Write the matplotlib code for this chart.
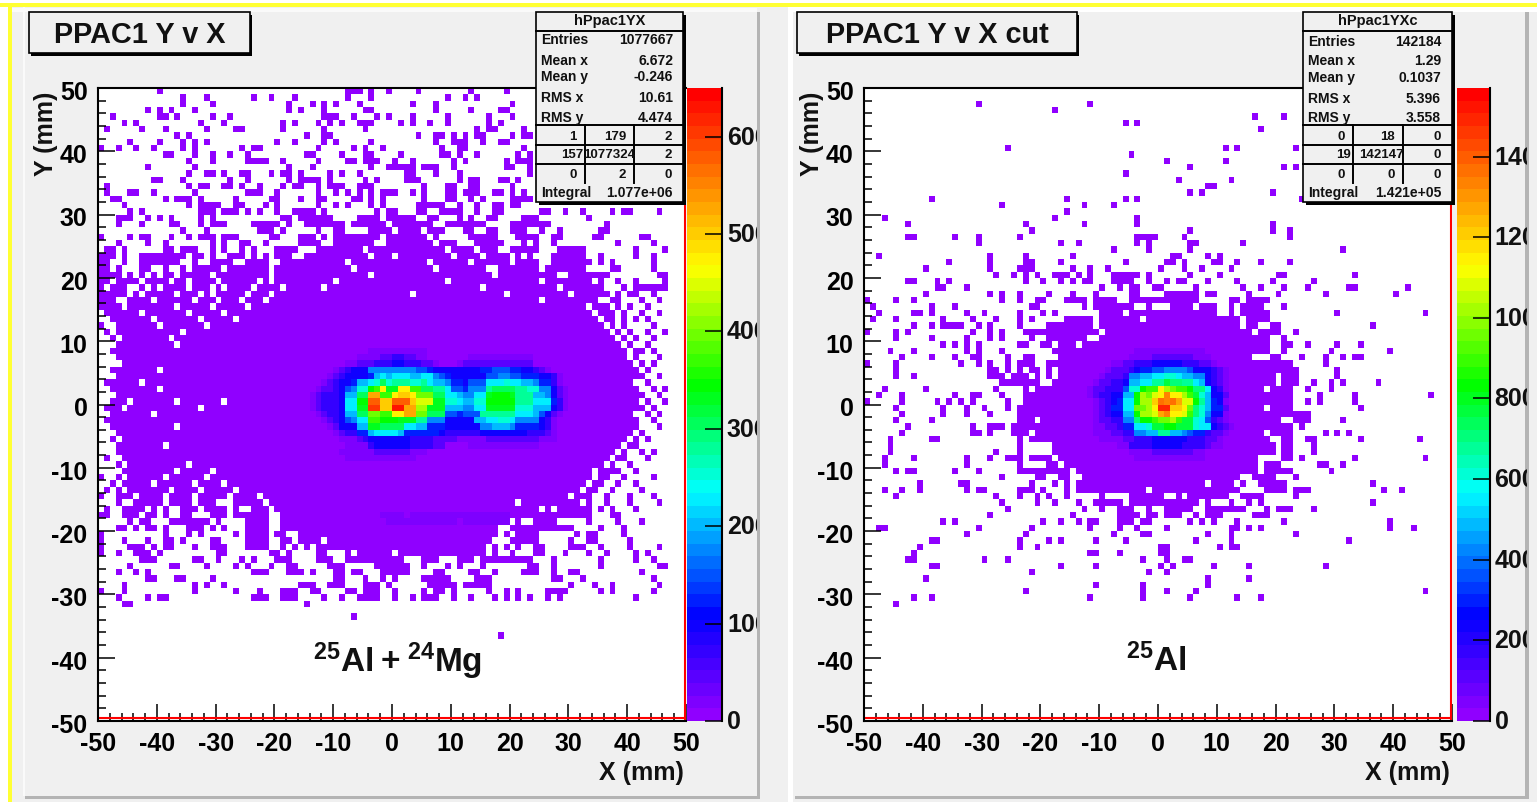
# PPAC1 Y v X, all events and with the cut
import numpy as np
import matplotlib
matplotlib.use('Agg')
import matplotlib.pyplot as plt
from matplotlib.colors import LinearSegmentedColormap
from matplotlib.patches import Rectangle
from matplotlib.lines import Line2D
from matplotlib.transforms import Bbox, ScaledTranslation

W, H = 1537, 803
plt.rcParams['font.family'] = ['Liberation Sans', 'DejaVu Sans']
plt.rcParams['font.weight'] = 'bold'
plt.rcParams['axes.unicode_minus'] = False
plt.rcParams['mathtext.fontset'] = 'custom'
plt.rcParams['mathtext.bf'] = 'Liberation Sans:bold'
plt.rcParams['mathtext.rm'] = 'Liberation Sans:bold'

# occupied bins: row (mm) -> x bins (mm), a:b is a run of bins
left_top_rows = {
    49: "-40 -8:-6 -4 -1 4 13 19",
    48: "-36 -32 -24 -21 -17 -8 -4 9 12 14",
    47: "-36 -31 -18 -14 -12 -10 -6 3 7 20",
    46: "-42 -40 -38 -34 -18 -16 -12 -5 -4 7 13 18 19",
    45: "-48 -40 -39 -37 -31 -28 -12:-10 -7 -3 -1 3 9 16 20",
    44: "-46 -44 -33 -29 -19 -17 -13 -11 -9 -6:-4 1 3 6 9 16 18",
    43: "-49 -43 -39 -32 -27 -26 -19 -12 -5 14 16 17 22",
    42: "-37 -35 -15 -12 -11 4 7 8 10 12 14 15 20 22 23",
    41: "-45 -40 -36 -34 -32 -20 -17 -12 -10 -4 7 10:12 15 18 19",
    40: "-50 -47 -44 -41 -36 -34 -26 -24 -23 -13 -7 -5 -2 8 11 12 22",
    39: "-39 -38 -34 -31 -28 -25 -15 -14 -9 -5 -4 1 8 9 11 14 21 23",
    38: "-35 -31 -25:-22 -19 -13 -8 -7 -5:-3 0 3 10 12 19 21:23",
    37: "-42 -34 -18 -14 -4 -1:3 5:7 10 19 20 23",
    36: "-35 -32 -31 -29 -26 -25 -21 -19 -18 -16 -11 -9 -6 2 3 7 11 23",
    35: "-41 -40 -36 -28 -25 -18 -16:-13 -11 -5 -3 2:4 11 13 14 18 19 21",
    34: "-49 -35 -33 -32 -29 -28 -26 -23 -19 -17 -16 -13 -11:-9 -6:-4 5 9 10 13 14 20",
    33: "-49 -45 -44 -41 -34 -25:-23 -20 -13 -10 -8 -6 -4 -2 -1 0 3 5 9 10 12:14 17 18 20 22",
    32: "-48 -47 -39 -37:-35 -33 -27 -21 -20 -16 -13 -12 -7 -6 -4 -2 5 9 10 13 15 20:23",
    31: "-46 -35 -33:-30 -27 -26 -22 -20 -13 -10 -8 -4 -2 4:8 11 14 17 18 20 21",
    30: "-45 -43 -33:-31 -29:-27 -25 -23 -20 -17:-14 -12 -3 -1 0 4 5 8:11 14 17 18 25 26 29 32 37 39 40 45",
    29: "-47:-45 -42 -40 -38 -33 -31 -19 -18 -16:-11 -6:-3 -1:3 6 7 11 13 16 17 22:24 33",
    28: "-47 -43 -38 -37 -33 -31:-29 -24:-20 -18 -15:-9 -7:-2 0:6 9:15 20:26 36",
    27: "-36 -32 -23:-21 -19 -13 -10 -9 -4:-1 1:4 6:8 12 13 16 17 20:22 25 28 35 36",
    26: "-50 -45 -43 -42 -38 -35 -33:-31 -29:-27 -21 -20 -16:-14 -12 -10:-3 -1:5 7 13:17 21:24 27 28 34 35 42 43",
    25: "-47 -42 -39 -31 -29 -26 -25 -22 -16:-13 -10:-4 -1:6 8:10 14:18 22 24 27 38 44",
    24: "-49 -48 -46 -39 -38 -36:-34 -31 -29 -26 -24 -20:-17 -13:-6 -4:8 10:13 15:17 20:24 28:32 41 46",
    23: "-50:-48 -46 -43:-36 -34 -33 -31 -28:-26 -24 -22 -20:-18 -15:-5 -3:-1 1:9 11:14 16:19 21 23 27:32 35 41 44",
    22: "-50 -49 -46 -43:-37 -34 -31:-28 -25:-22 -19:-9 -7:5 7:12 14:19 21:24 27:33 35 37 44",
    21: "-50 -49 -47 -43 -42 -39 -36 -34:-30 -28:-22 -20:-8 -6:6 8:15 18:24 26:32 37 38 44",
    20: "-50:-47 -45 -43 -41 -39 -38 -36:-32 -30:-22 -20:-5 -3:16 18:27 30:36 45 46",
    19: "-50 -49 -47:-44 -42:-39 -37 -36 -34:-31 -29:-24 -22 -20:-11 -9:8 10:24 26:33 35 38 41 46",
    18: "-50 -48:-46 -43 -41 -39:-36 -34:-32 -30 -28:-25 -23:-20 -18:-13 -11:14 16:27 29:35 39 41:46",
    17: "-50:-46 -44 -42:-38 -36:-34 -32 -30:-26 -24:-22 -20:2 4:18 20:29 31:36 38 40 41 44",
    16: "-50:-48 -45:-42 -40:-35 -33:-31 -29:-27 -25:-23 -21:24 26:34 37 38 42 45",
}
left_mid_rows = {
    15: "-50:-47 -45:-38 -36:-32 -30:-26 -24:32 34:36 38 40 43",
    14: "-49:-44 -42:-36 -34:-30 -28:33 35:37 39 42 45",
    13: "-48:-42 -40:-34 -32:-28 -26:34 36 37 39 41 43",
    12: "-50 -47:-41 -39:-33 -31:35 37 39 44",
    11: "-49 -47:-37 -35:36 38 40 43 46",
    10: "-48 -46:-39 -37:37 39 41 44",
    9: "-47:-38 -36:38 40 43",
    8: "-48:39 41 42 44",
    7: "-47:39 41 45",
    6: "-46:40 42 44",
    5: "-48:-41 -39:40 41 43",
    4: "-47:39 40:42 45",
    3: "-49:-44 -42:40 43",
    2: "-48:-41 -39:41 44 46",
    1: "-47:42 45",
    0: "-48:-46 -44:-38 -36:-30 -28:41 43 46",
    -1: "-49:-47 -45:-34 -32:42 44",
    -2: "-48:-42 -40:40 43 45",
    -3: "-49:41 44",
    -4: "-48:-38 -36:40 41 45",
    -5: "-47:40 42",
    -6: "-48 -46:39 41 43",
    -7: "-47:-40 -38:38 40 41",
    -8: "-47:37 39 42 44",
    -9: "-49 -46:36 38 39 43",
    -10: "-47 -45:-36 -34:35 37 40",
    -11: "-46:-38 -36:-32 -30:33 35:37 38 41",
    -12: "-50 -47 -45:-40 -38:-33 -31:33 35 36 39 44",
    -13: "-48 -46:-42 -40:-35 -33:-30 -28:32 34 35 38 41",
    -14: "-49 -47 -45:-39 -37:-34 -32:-28 -26:31 33 34 37 42",
    -15: "-50 -47:-45 -43:-40 -38:-35 -33:-29 -27:-24 -22:29 31:33 36 40 44",
}
left_low_rows = {
    -16: "-47 -44:-40 -38:-35 -33:-31 -27:-23 -21:20 22:31 33 36 40 45",
    -17: "-49 -46:-43 -41 -39 -36:-34 -32:-29 -27 -24:-22 -20:23 24 26 28:33 35 37 41",
    -18: "-50 -49 -46:-44 -42 -41 -39 -36 -35 -31:-29 -27 -26 -25:-22 -19:32 33 37 38",
    -19: "-45 -43 -42 -38:-33 -32 -30 -25 -24:-22 -19:17 18 21 24:27 33 38 42",
    -20: "-47 -46 -44 -42 -41 -39 -35:-33 -31 -29 -25:-22 -19:17 20:30 35 39",
    -21: "-50 -39 -35 -33 -27 -25:-22 -20 -19 -16:17 19 21:24 31 33 34 39",
    -22: "-50 -46 -42 -39 -38 -36 -31 -30 -25:-22 -19 -18 -16:-13 -11:16 20 21:24 30 33 34 40",
    -23: "-50 -45:-43 -41 -39 -38 -34 -31:-29 -25:-22 -19 -17 -15 -13:15 17 19 21 24 25 30:32 35 40 45",
    -24: "-50 -47 -44:-42 -40 -30 -29 -21 -20 -18 -13 -12 -8 -6:-1 1:15 17 20 24 25 29 33 36 41 43",
    -25: "-43:-41 -34 -33 -30 -26 -24 -20:-18 -13:-11 -8:1 5:7 11:13 15:23 27 35 41 44",
    -26: "-45 -38 -37 -32 -27 -25 -21 -18 -17 -11:-9 -3:2 5 9 11 15 23 24 27 35 45 46",
    -27: "-47 -44 -42 -24:-22 -18:-16 -14 -10 -9 -7 -6 -2:2 7 8 13 14 17 22:24 27 30 31 42",
    -28: "-42 -41 -37 -36 -31 -10 -9 -5 -2 0 5:9 14 15 16 27 28 32 44",
    -29: "-46 -34 -32 -29 -16:-14 -11:-9 -5:-3 -1 6:10 12:16 30 34 37 45",
    -30: "-50 -46 -34 -27 -23 -19:-17 -14 -13 -8 -7 -5:-3 0 5 7 8 10 16 19 21 26:29 35 37 44",
    -31: "-47 -42 -40 -39 -24:-22 -19:-17 -12 -9 -6:-3 0 3 5 6 7 10 13 17 19 21 23 26 28 41",
    -32: "-46 -45 -15",
    -34: "-7",
    -37: "18",
}
right_top_rows = {
    47: "-31 -12", 46: "-18", 45: "16 21", 44: "-6 -4", 43: "17", 40: "-26 11 13 23",
    39: "-5", 38: "1 11", 37: "5 21 23", 36: "-6", 35: "3 12", 34: "8 9", 33: "5 7 19",
    32: "-39 -16 -6 -4 24", 31: "-27 -13 -8", 30: "-16", 29: "-47 -18 -4",
    28: "-43 -23 -13 -4 19", 27: "-22 5 19 22", 26: "-43 -42 -35 -31 -24 -4:-1 4 22",
    25: "-31 -17 -14 -4 -2 5 6 14", 24: "-8 -2 5 31", 23: "-48 -29 -23 -15 2 3 8 10",
    22: "-36 -29 -23 -22 -17 -6 1 2 4 9 10 13 17 22",
    21: "-40 -29 -24:-22 -15 -12 -9 0 4 7 12",
    20: "-28 -25 -23 -21 -18:-16 -14 -12 -8:-5 -4 -2 5 10 20 21 33",
    19: "-43 -42 -38 -36 -23 -20 -17 -15 -13 -12 -8:-6 -5 -2 1 3 4 8 13 19 26",
    18: "-38 -37 -33 -10 -7 -5 -4 -1 0 6 14 17 21 25 32 33 42",
    17: "-40 -29 -27 -24 -19 -15 -11 -5 -4 1:6 8 9 15 20 28 40",
    16: "-50 -45 -42 -27 -24 -21 -20 -16:-13 -11:-8 -5 -4 -3:6 12 13 15:18",
    15: "-49 -39 -35 -22 -21 -13 -11:-5 -2 2 3:5 7:9 12 14:17 21",
    14: "-48 -42 -41 -39 -33 -30 -24 -20 -18 -10:-7 -5:3 4:9 12 14:18 30 45",
    13: "-49 -45 -37 -32 -28 -24 -22 -16:-12 -10:-4 -2:13 15:18",
    12: "-42 -39 -37:-35 -34 -31 -29 -24 -19:-16 -15:-12 -10:13 15 16 19 20 36",
    11: "-50 -45 -43 -32 -29 -27 -23:-11 -9:13 14 15 17:20 23",
}
right_mid_rows = {
    10: "-45 -39 -33 -29 -27 -22 -19 -18 -17:-13 -10:15 16:18 21",
    9: "-37 -35 -33 -31 -24 -23 -20 -19 -17:-15 -13:18 21 22 25 30 34",
    8: "-46 -42 -33 -31 -27 -18:18 21 29 39",
    7: "-44 -39 -35 -32 -31 -26 -23 -22 -17:15 19 20 24 28 31 33 34",
    6: "-50 -45 -34 -31 -29 -26 -24:-22 -19:19 20:22 28",
    5: "-45 -29 -28 -26 -24 -22 -21 -19 -17:19 20:23 30",
    4: "-45 -42 -29:-27 -25 -24 -23 -21 -19 -17:19 21:23 30",
    3: "-27:-21 -18:19 21:23 26 29 31 37",
    2: "-47 -40 -28 -23 -21:17 19:22 25 29",
    1: "-48 -44 -35 -32 -31 -27 -23:22 27 33 46",
    0: "-50 -44 -38 -36 -34 -32 -26 -23:22 25 27 33",
    -1: "-45 -37 -33 -30 -26 -24 -23:17 19:22 34",
    -2: "-44 -37 -33 -29 -24 -23:25",
    -3: "-45 -39 -24 -23:-22 -20:20 23:25 31",
    -4: "-43 -32 -29:-27 -25:22 24",
    -5: "-44 -32 -31 -29 -25:-23 -21:17 19:22 28 30 32",
    -6: "-46 -39 -38 -24 -22:18 21 22 25 26 34 44",
    -7: "-46 -24 -18:19 21 22 26",
    -8: "-46 -28 -24 -18:19 21 22 26",
    -9: "-47 -42 -33 -29 -26:-24 -22:-19 -17:16 21 22 24 33 45",
    -10: "-47 -33 -24 -19 -18 -16:16 18:20 27 28 31",
    -11: "-45 -43 -42 -35 -31 -24:-16 -14:16 18:22 29",
    -12: "-27 -21 -20 -17 -16 -13:12 13 16:19 23",
}
right_low_rows = {
    -13: "-41 -34 -33 -22 -18 -16 -14:7 9:12 14 17:21 36",
    -14: "-47 -44 -41 -33 -31 -30 -24 -23 -22 -20 -16 -14:-3 -1:13 18:21 23:25 38 41",
    -15: "-45 -28 -24 -21 -19 -16 -10 -5:0 3 5:11 14:17 23",
    -16: "-27 -21 -18 -14 -11:-7 -5:3 4:6 8 12 15 17 36",
    -17: "-26 -13 -10 -7:-5 -2 1:3 4 5 8:14 18 20:22 26",
    -18: "-29 -15 -7:-4 -2 -1 1:3 6 8:10 16:18",
    -19: "-37 -35 -20 -17 -14 -12 -11 -7:-5 -3 -2 5 7 9 13 21 39",
    -20: "-48 -47 -31 -22 -12 -7 -4 1 12 13 15 17 39 43",
    -21: "-33 -23 -8 -3 -2 8 12 23",
    -22: "-39 -38 -24 -19 -17 -11 -6 6 12 32",
    -23: "-41 -24 -21 0 1 10 12 13",
    -24: "-42 -12 -11 -7 0 1",
    -25: "-43 -42 -30 -26 -3 1 4 5",
    -26: "-39 -38 -17 -11 0 2 9 15 28",
    -27: "-22 -2 1",
    -28: "-40 8 15",
    -29: "-11 -3 8",
    -30: "-23 -3 1 6 45",
    -31: "-42 -39 -12 -3 5 13 17",
    -32: "-45",
}

# hot region, one base-36 digit per bin, top row first
left_core_x0, left_core_top, left_core_unit = -15, 8, 25
left_core = [
    "000000000001111111111",
    "000000000111122332211000000011111111111",
    "000000011222333443332210001222222222222",
    "0000012344477777777665444444445566655443 21".replace(" ", ""),
    "00001234444589899988997654444446677665554431",
    "0001234458 89acabbbaab98875546 66999a99887553 1".replace(" ", ""),
    "00122346 7aaefjddjjffccbb9665777bccccbbaa7742 1".replace(" ", ""),
    "01233 348 8ccllffjkkjgggcc99877 99deeedbbb88742 1".replace(" ", ""),
    "012333499eennkknnnkiiiddaa988aaeeeeebbb99953 1".replace(" ", ""),
    "012333499ddookkppllhhddd88877 99dddddaaa888431".replace(" ", ""),
    "001233488ccggffjjllggccc66 5666bbbbbb99986 421".replace(" ", ""),
    "0001234 6799ffeeeddd bb777 44444 8899aa9 7777 431".replace(" ", ""),
    "00001244 488ddcccc9988555 444444 778887 5555 431".replace(" ", ""),
    "00000123 355899998555555 4333333 44444444333 21".replace(" ", ""),
    "0000001112344444443333222211111222222222111",
    "0000000111134444443333220000111111111111",
    "000000111111222222111",
    "0000000111111111111",
]
# faint band under the main spot of the left panel
left_band_x0, left_band_top = -2, -18
left_band = ["1111011111111111111111", "0111111111111011111111"]

right_core_x0, right_core_top, right_core_unit = -13, 8, 60
right_core = [
    "000000000111111111111",
    "000000001111222222211 1".replace(" ", ""),
    "0000011223334444433322 1".replace(" ", ""),
    "000012223455667777 6444321".replace(" ", ""),
    "000122237788 99aa98877 4321".replace(" ", ""),
    "00122334 8899bbdccbb984 321".replace(" ", ""),
    "01223336aaeffjhgffecc9431",
    "01233448 8ehgijmjjhfda8442".replace(" ", ""),
    "001234599ehhknmnliieb8541",
    "001235599gghjppkkjgca8552",
    "00123448 8ehhilmjjifca7441".replace(" ", ""),
    "0012233 77ceefgghfdda96321".replace(" ", ""),
    "001122355 99addeeddda99 4321".replace(" ", ""),
    "001112233 7788bb887655 3221".replace(" ", ""),
    "000111122 33344444433322 1".replace(" ", ""),
    "000000113 33344444333321 1".replace(" ", ""),
    "000000001111222222211",
    "000000000111111111111",
]

left_ticks = [0, 100, 200, 300, 400, 500, 600]
right_ticks = [0, 200, 400, 600, 800, 1000, 1200, 1400]
left_vmax, right_vmax = 650, 1570

left_stats = [("Entries", "1077667", 40), ("Mean x", "6.672", 61), ("Mean y", "-0.246", 77),
              ("RMS x", "10.61", 98), ("RMS y", "4.474", 118), ("Integral", "1.077e+06", 193)]
right_stats = [("Entries", "142184", 42), ("Mean x", "1.29", 61), ("Mean y", "0.1037", 78),
               ("RMS x", "5.396", 99), ("RMS y", "3.558", 118), ("Integral", "1.421e+05", 193)]
left_cells = [["1", "179", "2"], ["157", "1077324", "2"], ["0", "2", "0"]]
right_cells = [["0", "18", "0"], ["19", "142147", "0"], ["0", "0", "0"]]

palette = LinearSegmentedColormap.from_list(
    'root1', [(0.0, '#9000ff'), (0.16, '#0000ff'), (0.36, '#00ffff'), (0.53, '#00ff00'),
              (0.72, '#ffff00'), (1.0, '#ff0000')], N=50)


def read_rows(grid, rows):
    for row, text in rows.items():
        for token in text.split():
            head, _, tail = token.partition(':')
            a = int(head)
            b = int(tail) if tail else a
            grid[row + 50, a + 50:b + 51] = 3


def read_core(grid, table, x0, top, unit):
    for k, line in enumerate(table):
        for i, ch in enumerate(line):
            if ch != '0' and x0 + i + 50 < 100:
                grid[top - k + 50, x0 + i + 50] = int(ch, 36) * unit


def px_rect(fig, x0, y0, x1, y1, color, edge='none', lw=0, z=-5):
    fig.add_artist(Rectangle((x0 / W, 1 - y1 / H), (x1 - x0) / W, (y1 - y0) / H, transform=fig.transFigure,
                             facecolor=color, edgecolor=edge, linewidth=lw, zorder=z))


def px_line(fig, x0, y0, x1, y1, lw=1.4, z=6):
    fig.add_artist(Line2D([x0 / W, x1 / W], [1 - y0 / H, 1 - y1 / H], transform=fig.transFigure,
                          color='black', linewidth=lw, zorder=z))


def px_text(fig, x, y, s, size=18, ha='left', rotation=0, va='center', z=7):
    return fig.text(x / W, 1 - y / H, s, fontsize=size, ha=ha, va=va, rotation=rotation, zorder=z,
                    fontweight='bold', color='#111111')


def panel(fig, x0, grid, vmax, ticks, bar_x0, bar_x1, clip_x, box, stats, cells, title, title_box, name, note, note_xy):
    x1 = x0 + 588
    y0, y1 = 89, 722
    ax = fig.add_axes([x0 / W, 1 - y1 / H, (x1 - x0) / W, (y1 - y0) / H], zorder=1)
    edges = np.arange(-50, 51)
    ax.pcolormesh(edges, edges, np.ma.masked_equal(grid, 0), cmap=palette, vmin=0, vmax=vmax, linewidth=0)
    ax.set_xlim(-50, 50)
    ax.set_ylim(-50, 50)
    ax.axhline(-49.6, color='#ff0000', lw=1.5, zorder=2)
    ax.axvline(49.85, color='#ff0000', lw=1.5, zorder=2)
    ax.set_xticks(np.arange(-50, 51, 10))
    ax.set_yticks(np.arange(-50, 51, 10))
    ax.set_xticks(np.arange(-50, 51, 2), minor=True)
    ax.set_yticks(np.arange(-50, 51, 2), minor=True)
    ax.tick_params(which='major', direction='in', length=12, width=1.1, labelsize=18, pad=7)
    ax.tick_params(which='minor', direction='in', length=6, width=1.1)
    ax.tick_params(axis='y', pad=7.5)
    for side in ax.spines.values():
        side.set_linewidth(1.5)
    ax.spines['right'].set_visible(False)
    shift = ScaledTranslation(0, -1 / 72, fig.dpi_scale_trans)
    for lab in ax.get_yticklabels():
        lab.set_transform(lab.get_transform() + shift)
    ax.text(note_xy[0], note_xy[1], note, fontsize=24, ha='center', va='center', fontweight='bold', color='#111111')
    px_text(fig, x1 - 2, 773, "X (mm)", ha='right')
    px_text(fig, x0 - 52, 92, "Y (mm)", va='top', ha='center', rotation=90)

    # palette on the right of the frame
    bar = fig.add_axes([bar_x0 / W, 1 - y1 / H, (bar_x1 - bar_x0) / W, (y1 - y0) / H], zorder=1)
    levels = np.linspace(0, vmax, 51)
    bar.pcolormesh([0, 1], levels, ((levels[:-1] + levels[1:]) / 2).reshape(-1, 1), cmap=palette, vmin=0, vmax=vmax)
    bar.set_ylim(0, vmax)
    bar.set_xticks([])
    bar.yaxis.tick_right()
    bar.set_yticks(ticks)
    bar.set_yticklabels([])
    bar.tick_params(axis='y', direction='in', length=12, width=1.1)
    for key in ('left', 'top', 'bottom'):
        bar.spines[key].set_visible(False)
    bar.spines['right'].set_linewidth(1.5)
    for v in ticks:
        t = bar.text(1.14, v, str(v), transform=bar.get_yaxis_transform(), fontsize=18, va='center',
                     fontweight='bold', color='#111111')
        t.set_clip_on(True)
        t.set_clip_box(Bbox([[bar_x0, 0], [clip_x, H]]))

    # title box
    tx0, tx1 = title_box
    px_rect(fig, tx0 + 2, 16, tx1 + 2, 57, 'black', z=4)
    px_rect(fig, tx0, 13, tx1, 54, '#f0f0f0', edge='black', lw=1.2, z=5)
    px_text(fig, (tx0 + tx1) / 2, 35, title, size=20.8, ha='center')

    # statistics box
    bx0, bx1, v1, v2, vr = box
    px_rect(fig, bx0 + 3, 16, bx1 + 3, 206, 'black', z=4)
    px_rect(fig, bx0, 13, bx1, 203, '#f0f0f0', edge='black', lw=1.2, z=5)
    px_text(fig, (bx0 + bx1) / 2, 21, name, size=10.5, ha='center')
    for yy in (32, 126, 146, 165):
        px_line(fig, bx0, yy, bx1, yy)
    for xx in (v1, v2):
        px_line(fig, xx, 126, xx, 184)
    for lab, val, yy in stats:
        px_text(fig, bx0 + 5, yy, lab, size=10)
        px_text(fig, vr, yy, val, size=10, ha='right')
    for yy, row in zip((137, 155, 175), cells):
        px_text(fig, v1 - 2 if len(row[1]) > 3 else v1 - 8, yy, row[0], size=9.5, ha='right')
        px_text(fig, v2 + 1 if len(row[1]) > 3 else v2 - 8, yy, row[1], size=9.5, ha='right')
        px_text(fig, bx1 - 11, yy, row[2], size=9.5, ha='right')
    return ax


left_grid = np.zeros((100, 100))
read_rows(left_grid, left_top_rows)
read_rows(left_grid, left_mid_rows)
read_rows(left_grid, left_low_rows)
read_core(left_grid, left_core, left_core_x0, left_core_top, left_core_unit)
read_core(left_grid, left_band, left_band_x0, left_band_top, left_core_unit)

right_grid = np.zeros((100, 100))
read_rows(right_grid, right_top_rows)
read_rows(right_grid, right_mid_rows)
read_rows(right_grid, right_low_rows)
read_core(right_grid, right_core, right_core_x0, right_core_top, right_core_unit)

fig = plt.figure(figsize=(W / 100, H / 100), dpi=100, facecolor='white')

# frames round the two pads
px_rect(fig, 12, 8, 788, H, '#f0f0f0')
px_rect(fig, 793, 13, W, H, '#f0f0f0')
px_rect(fig, 0, 4, W, 8, '#ffff33', z=-4)
px_rect(fig, 8, 4, 12, H, '#ffff33', z=-4)
px_rect(fig, 23, 8, 25, 797, '#fafafa', z=-4)
px_rect(fig, 12, 9, 757, 13, '#fafafa', z=-4)
px_rect(fig, 757, 13, 760, 798, '#b4b4b4', z=-4)
px_rect(fig, 25, 797, 760, 800, '#b4b4b4', z=-4)
px_rect(fig, 1525, 13, 1529, 798, '#b4b4b4', z=-4)
px_rect(fig, 795, 797, 1529, 800, '#b4b4b4', z=-4)

panel(fig, 98, left_grid, left_vmax, left_ticks, 687, 722, 757, (536, 683, 585, 634, 673),
      left_stats, left_cells, "PPAC1 Y v X", (29, 250), "hPpac1YX",
      r"$\mathbf{^{25}Al+^{24}Mg}$", (0.9, -40.4))
panel(fig, 864, right_grid, right_vmax, right_ticks, 1457, 1490, 1527, (1303, 1452, 1353, 1403, 1441),
      right_stats, right_cells, "PPAC1 Y v X cut", (797, 1077), "hPpac1YXc",
      r"$\mathbf{^{25}Al}$", (-0.3, -40.4))

fig.savefig('out.png', dpi=100)
